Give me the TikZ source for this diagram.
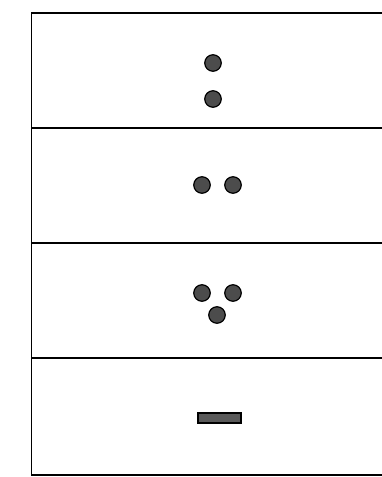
\documentclass[tikz,border=0pt]{standalone}
\usepackage{tikz}
\usetikzlibrary{shapes}
\tikzstyle{coin} = [circle, draw, inner sep=0pt, minimum size=16.5pt, fill=black!70, line width=1.2pt]
\tikzstyle{bar} = [rectangle, draw, inner sep=0pt, minimum width=43pt, minimum height=10pt, fill=black!65, line width=1.2pt]
\tikzstyle{frame} = [line width=1.6pt]
\begin{document}
\begin{tikzpicture}[x=1pt,y=-1pt]
				\useasboundingbox (0,0) rectangle (382,477);
				\coordinate (tl) at (31.5,13);
				\coordinate (tr) at (382,13);
				\coordinate (bl) at (31.5,475);
				\coordinate (br) at (382,475);
				\coordinate (s1l) at (31.5,128);
				\coordinate (s1r) at (382,128);
				\coordinate (s2l) at (31.5,243);
				\coordinate (s2r) at (382,243);
				\coordinate (s3l) at (31.5,358);
				\coordinate (s3r) at (382,358);
				%%%%%%%%%%%%%%%%%%%%%%%%%%%%%%%%%%
				\draw[frame] (tr) -- (tl) -- (bl) -- (br);
				\draw[frame] (s1l) -- (s1r);
				\draw[frame] (s2l) -- (s2r);
				\draw[frame] (s3l) -- (s3r);
				%%%%%%%%%%%%%%%%%%%%%%%%%%%%%%%%%%
				\node[coin] (a1) at (213,63) {};
				\node[coin] (a2) at (213,99) {};
				\node[coin] (b1) at (202,185) {};
				\node[coin] (b2) at (233,185) {};
				\node[coin] (c1) at (202,293) {};
				\node[coin] (c2) at (233,293) {};
				\node[coin] (c3) at (217,315) {};
				\node[bar] (d1) at (219.5,418) {};
			\end{tikzpicture}
\end{document}
